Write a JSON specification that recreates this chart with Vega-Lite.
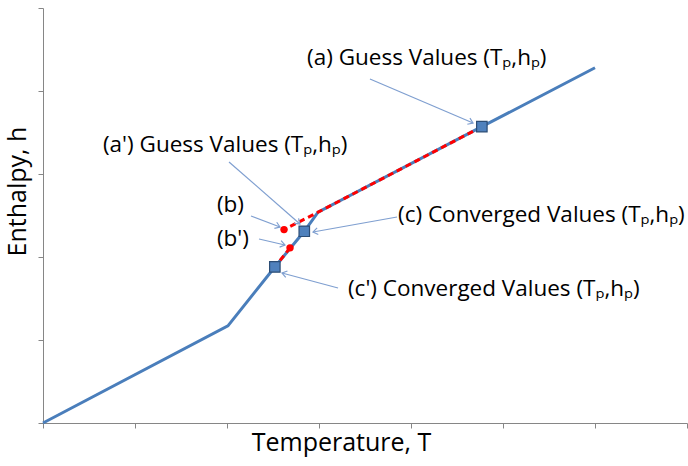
{
  "$schema": "https://vega.github.io/schema/vega-lite/v6.json",
  "width": 644,
  "height": 415,
  "autosize": {"type": "none"},
  "padding": {"left": 43, "top": 8, "right": 1, "bottom": 43},
  "background": "white",
  "config": {"view": {"stroke": null}},
  "datasets": {
    "curve": [
      {"T": 0, "h": 0},
      {"T": 2.01, "h": 1.17},
      {"T": 2.52, "h": 1.88},
      {"T": 2.84, "h": 2.31},
      {"T": 2.99, "h": 2.54},
      {"T": 4.77, "h": 3.57},
      {"T": 6.0, "h": 4.28}
    ],
    "iter": [
      {"seg": "1", "i": 1, "T": 4.77, "h": 3.57},
      {"seg": "1", "i": 2, "T": 2.99, "h": 2.54},
      {"seg": "1", "i": 3, "T": 2.62, "h": 2.33},
      {"seg": "2", "i": 1, "T": 2.685, "h": 2.11},
      {"seg": "2", "i": 2, "T": 2.52, "h": 1.88}
    ],
    "dots": [
      {"name": "b", "T": 2.62, "h": 2.33},
      {"name": "b'", "T": 2.685, "h": 2.11}
    ],
    "squares": [
      {"name": "c'", "T": 2.52, "h": 1.88},
      {"name": "c", "T": 2.84, "h": 2.31},
      {"name": "a", "T": 4.77, "h": 3.57}
    ],
    "arrows": [
      {"name": "a", "T": 3.554, "h": 4.145, "T2": 4.674, "h2": 3.614},
      {"name": "a'", "T": 2.022, "h": 3.145, "T2": 2.793, "h2": 2.398},
      {"name": "b", "T": 2.261, "h": 2.494, "T2": 2.576, "h2": 2.361},
      {"name": "b'", "T": 2.348, "h": 2.217, "T2": 2.63, "h2": 2.145},
      {"name": "c", "T": 3.848, "h": 2.482, "T2": 2.935, "h2": 2.301},
      {"name": "c'", "T": 3.207, "h": 1.627, "T2": 2.598, "h2": 1.807}
    ],
    "labels": [
      {"label": "(a) Guess Values (Tₚ,hₚ)", "T": 2.87, "h": 4.40},
      {"label": "(a') Guess Values (Tₚ,hₚ)", "T": 0.652, "h": 3.35},
      {"label": "(b)", "T": 1.891, "h": 2.627},
      {"label": "(b')", "T": 1.891, "h": 2.217},
      {"label": "(c) Converged Values (Tₚ,hₚ)", "T": 3.859, "h": 2.506},
      {"label": "(c') Converged Values (Tₚ,hₚ)", "T": 3.315, "h": 1.614}
    ]
  },
  "layer": [
    {
      "data": {"name": "curve"},
      "mark": {"type": "line", "color": "#4A7EBB", "strokeWidth": 3},
      "encoding": {
        "x": {
          "field": "T", "type": "quantitative",
          "scale": {"domain": [0, 7], "nice": false, "zero": false},
          "axis": {
            "values": [0, 1, 2, 3, 4, 5, 6, 7],
            "labels": false, "grid": false,
            "domainColor": "#868686", "tickColor": "#868686", "tickSize": 5,
            "title": "Temperature, T",
            "titleFont": "Open Sans", "titleFontSize": 25, "titleFontWeight": "normal",
            "titleColor": "#000000",
            "titleX": 298, "titleY": 19, "titleAlign": "center", "titleBaseline": "middle"
          }
        },
        "y": {
          "field": "h", "type": "quantitative",
          "scale": {"domain": [0, 5], "nice": false, "zero": false},
          "axis": {
            "values": [0, 1, 2, 3, 4, 5],
            "labels": false, "grid": false,
            "domainColor": "#868686", "tickColor": "#868686", "tickSize": 5,
            "title": "Enthalpy, h",
            "titleFont": "Open Sans", "titleFontSize": 25, "titleFontWeight": "normal",
            "titleColor": "#000000",
            "titleX": -26, "titleY": 183, "titleAngle": -90,
            "titleAlign": "center", "titleBaseline": "middle"
          }
        }
      }
    },
    {
      "data": {"name": "iter"},
      "mark": {"type": "line", "color": "#FF0000", "strokeWidth": 3, "strokeDash": [6, 4]},
      "encoding": {
        "x": {"field": "T", "type": "quantitative"},
        "y": {"field": "h", "type": "quantitative"},
        "detail": {"field": "seg"},
        "order": {"field": "i", "type": "quantitative"}
      }
    },
    {
      "data": {"name": "dots"},
      "mark": {"type": "point", "shape": "circle", "filled": true, "color": "#FF0000", "size": 55, "opacity": 1},
      "encoding": {
        "x": {"field": "T", "type": "quantitative"},
        "y": {"field": "h", "type": "quantitative"}
      }
    },
    {
      "data": {"name": "squares"},
      "mark": {"type": "point", "shape": "square", "filled": true, "fill": "#4F81BD", "stroke": "#2C4D75", "strokeWidth": 1.2, "size": 110, "opacity": 1},
      "encoding": {
        "x": {"field": "T", "type": "quantitative"},
        "y": {"field": "h", "type": "quantitative"}
      }
    },
    {
      "data": {"name": "arrows"},
      "mark": {"type": "rule", "color": "#7F9FD0", "strokeWidth": 1.2},
      "encoding": {
        "x": {"field": "T", "type": "quantitative"},
        "y": {"field": "h", "type": "quantitative"},
        "x2": {"field": "T2"},
        "y2": {"field": "h2"}
      }
    },
    {
      "data": {"name": "arrows"},
      "transform": [
        {"calculate": "atan2((datum.T2 - datum.T) * 92, (datum.h2 - datum.h) * 83) * 180 / PI", "as": "ang"}
      ],
      "mark": {"type": "point", "shape": "M -0.7 1 L 0 0 L 0.7 1", "filled": false, "stroke": "#7F9FD0", "strokeWidth": 1.2, "size": 90, "opacity": 1},
      "encoding": {
        "x": {"field": "T2", "type": "quantitative"},
        "y": {"field": "h2", "type": "quantitative"},
        "angle": {"field": "ang", "type": "quantitative", "scale": null}
      }
    },
    {
      "data": {"name": "labels"},
      "mark": {"type": "text", "font": "Open Sans", "fontSize": 22.5, "align": "left", "baseline": "middle", "color": "#000000"},
      "encoding": {
        "x": {"field": "T", "type": "quantitative"},
        "y": {"field": "h", "type": "quantitative"},
        "text": {"field": "label"}
      }
    }
  ]
}
